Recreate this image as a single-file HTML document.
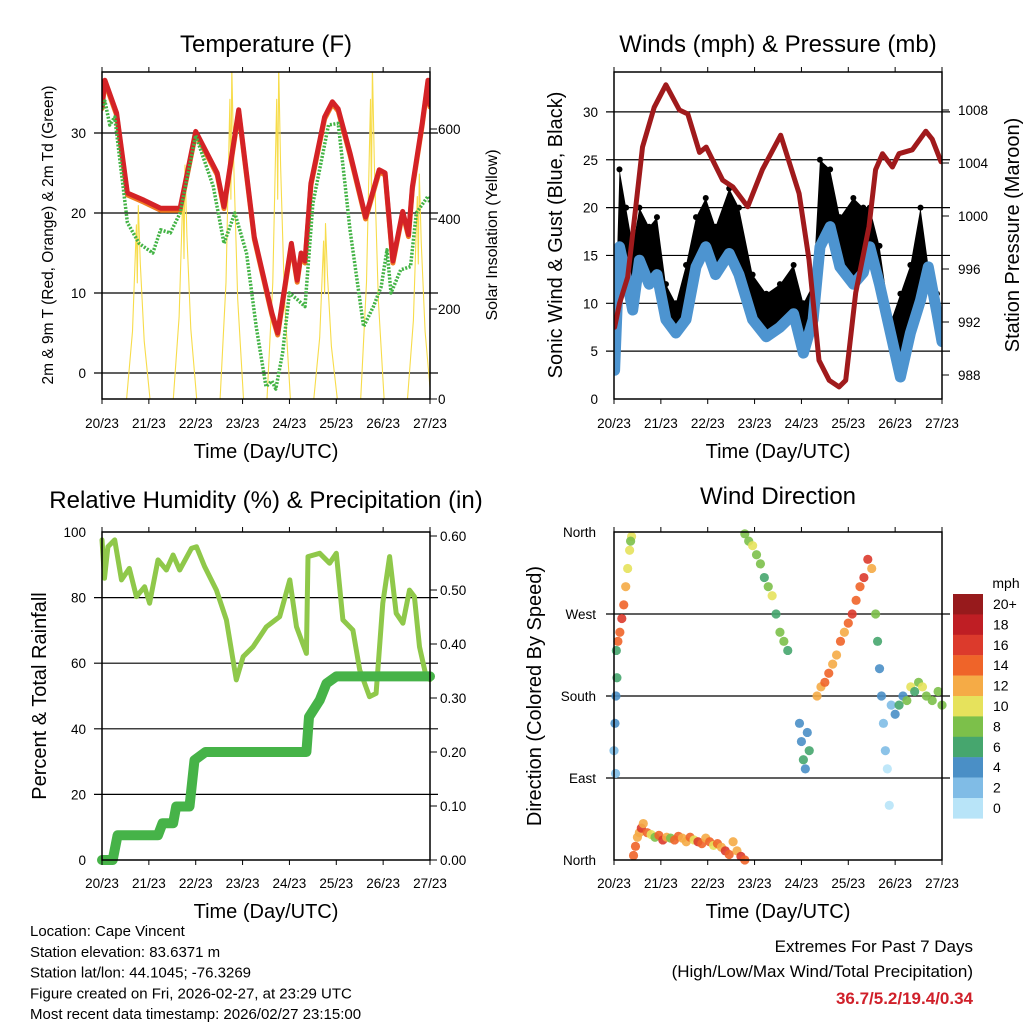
<!DOCTYPE html>
<html><head><meta charset="utf-8"><style>
html,body{margin:0;padding:0;background:#fff;}
svg{display:block;font-family:"Liberation Sans",sans-serif;}
</style></head><body>
<svg id="s" width="1024" height="1024" viewBox="0 0 1024 1024"></svg>
<script>
// ---- data ----
const dayLabels=["20/23","21/23","22/23","23/23","24/23","25/23","26/23","27/23"];
const tempHours=[0,1.5,7.5,13,21.5,30,40,48,59,62.5,70,78,87,90,97,100,102,104,107,114,118,121,127,135,142,145,149,154,157,159,164,167,168];
const tempRed=[33.3,36.6,32.5,22.5,21.6,20.6,20.6,30.2,25,20.8,32.9,17,7.5,5,16.2,11.6,15,14,23.7,32,33.9,33,27.5,19.5,25.4,25,14,20.2,17.3,23.3,31.2,36.6,33.5];
const dewHours=[0,1.5,4,6.5,13,19,26,30,35,40,48,57,62.5,68,74,79,84,87,89,92.5,96,100,104,108,116,121,125,127,134,139,143,146,148,153,158,161,167,168];
const dewGreen=[33,34,31,32,18.8,16.2,15,17.9,17.5,20,29.7,23.3,16.2,20,15,5.8,-1.7,-1,-2,2.5,10,9.2,8.3,21.2,31,31.2,22.5,17.9,5.8,8.3,10.8,15.4,10,12.9,13.3,20,22.1,21.2];
const solarPeakHours=[18.6,42.5,66.5,90.5,114.5,138.5,162.5];
const solarPeaks=[430,520,740,740,390,740,500];
const windHours=[0.3,2.8,6.2,9.6,13,18,22,26.6,31.7,36.9,42,47,52,59,64,71,78,85,92,97,102,105.5,110.7,115.7,122.6,127.7,131,136,141.6,146.7,151.8,157,161,165.4,168];
const windSpeed=[3,15.9,12.8,9.3,14.5,12,13,8.3,6.9,8.3,13.8,15.9,13,15.2,13,8.3,6.5,7.5,8.9,4.8,8.3,15.9,18,13.8,12,13.2,15.9,12,6.9,2.3,6.9,10.3,13.8,9,6];
const windGust=[6,24,20,16,20,18,19,12,10,14,19,21,18,22,20,13,11,12,14,10,12,25,24,19,21,20,20,16,8,11,14,20,14,11,9];
const presHours=[0.3,2.8,7,11,14.6,20.6,26.6,33.5,37.8,43.8,47.2,55.7,60.8,68.5,76,85.4,94.8,99.9,105,110.2,115.3,118.7,123.8,130.6,134,137.5,142.6,146,152.8,159.7,163,167.5];
const pressure=[991.6,993.4,995.4,1000.5,1005.2,1008.2,1009.9,1008,1007.7,1004.8,1005.2,1002.7,1002.2,1000.7,1003.5,1006.1,1001.7,996.7,989.1,987.6,987.1,987.6,994.2,999.2,1003.5,1004.7,1003.7,1004.7,1005,1006.4,1005.8,1004.1];
const rhHours=[0,1.3,3,6.5,10,14,17.6,21.8,24.4,28.7,33,36.4,39.8,45.8,48.4,52.6,58.6,63.7,68.8,72.3,77.4,84.2,91,96.2,99.6,104.7,105.5,111.5,116.6,120,123.4,128.5,132,137,140.4,143.8,147.3,150.7,154.1,157.5,160,162.6,166,168];
const rhValues=[97.6,85.9,95.5,97.6,85.4,88.9,80.3,83.3,78.3,91.5,88.4,93,88.4,95,95.5,89.4,82.3,73.2,54.9,62,65,71.1,74.2,85.4,71.1,63,92.5,93.5,90.5,93.5,73.2,70.1,58,49.8,50.8,78.3,92.5,75.2,72.2,82.3,80.3,65,56,55];
const rainHours=[0,5.5,8,28.7,31,36.4,38,44.8,47.4,53,104.7,106,111.5,115,120,168];
const rainTotal=[0,0,0.046,0.046,0.068,0.068,0.099,0.099,0.185,0.2,0.2,0.265,0.296,0.327,0.34,0.34];
const dirHours=[0,0.5,1,1.5,0.8,1.2,2,3,4,5,6,7,8,9,8.5,10,11,12,13,14,15,17,19,21,23,25,27,29,31,33,35,37,39,41,43,45,47,49,51,53,55,57,59,61,63,65,67,67,69,71,73,75,77,79,81,83,85,87,89,95,96,97,98,99,100,104,106,108,110,112,114,116,118,120,122,124,126,128,130,132,134,135,136,137,138,139,140,141,142,144,146,148,150,152,154,156,158,160,163,166,168];
const dirDeg=[120,150,180,200,95,230,240,250,265,280,300,320,340,355,350,5,15,25,30,35,40,30,28,25,27,22,25,24,22,26,24,20,25,22,20,18,24,20,16,18,14,10,6,20,10,4,0,358,350,345,335,325,310,300,290,270,250,240,230,150,130,110,100,140,120,180,190,195,205,215,225,240,250,260,270,285,300,310,330,320,270,240,210,180,150,120,100,60,170,160,170,180,175,190,185,195,190,180,175,185,170];
const dirSpeed=[3,4,5,6,3,7,14,15,16,14,12,10,10,10,8,14,15,13,12,16,12,14,10,8,14,16,12,8,14,15,13,12,14,10,16,14,12,15,10,14,12,16,14,12,13,16,14,8,9,10,8,9,6,8,10,7,8,9,6,5,4,6,5,4,7,12,13,15,14,12,13,14,12,15,16,14,15,16,17,13,8,6,5,4,3,2,1,1,3,5,6,4,8,10,7,9,11,8,9,8,9];
const cbLabels=["20+","18","16","14","12","10","8","6","4","2","0"];
const cbColors=["#971a1c","#bf1e24","#dc3a2c","#ef6429","#f5ab46","#e6e25c","#7cc04a","#46a66e","#4a8fc6","#80bce6","#b8e4f8"];

const NS="http://www.w3.org/2000/svg";
const svg=document.getElementById('s');
function mk(tag,attrs,parent){const e=document.createElementNS(NS,tag);for(const k in attrs)e.setAttribute(k,attrs[k]);(parent||svg).appendChild(e);return e;}
function txt(str,x,y,size,anchor,parent,extra){const t=mk('text',Object.assign({x:x,y:y,'font-size':size,'text-anchor':anchor||'middle',fill:'#000'},extra||{}),parent);t.textContent=str;return t;}
function line(pts,parent,attrs){return mk('polyline',Object.assign({points:pts.map(p=>p[0].toFixed(1)+','+p[1].toFixed(1)).join(' '),fill:'none','stroke-linejoin':'round','stroke-linecap':'round'},attrs),parent);}

const panels={t:{x0:102,x1:430,y0:72,y1:399},w:{x0:614,x1:942,y0:72,y1:399},r:{x0:102,x1:430,y0:532,y1:860},d:{x0:614,x1:942,y0:532,y1:860}};
function xs(p,h){return p.x0+h*(p.x1-p.x0)/168;}

function timeAxis(p,g,titleY,labY){
  for(let i=0;i<8;i++){const x=xs(p,i*24);
    mk('line',{x1:x,x2:x,y1:p.y1,y2:p.y1+5,stroke:'#000','stroke-width':1},g);
    mk('line',{x1:x,x2:x,y1:p.y0,y2:p.y0-5,stroke:'#000','stroke-width':1},g);
    const t=txt(dayLabels[i],x,labY,13.5,'middle',g);
    
    }
  const tt=txt("Time (Day/UTC)",(p.x0+p.x1)/2,titleY,20,'middle',g);
  
  
}
function frame(p,g){mk('rect',{x:p.x0,y:p.y0,width:p.x1-p.x0,height:p.y1-p.y0,fill:'none',stroke:'#000','stroke-width':1.5},g);}
function grid(p,g,y){mk('line',{x1:p.x0-8,x2:p.x1+8,y1:y,y2:y,stroke:'#000','stroke-width':1.2},g);}

// ===== Temperature panel =====
(function(){const p=panels.t;const g=mk('g',{});
 
 
 const yT=v=>373-v*8, yS=v=>399-v*0.45;
 const clip=mk('clipPath',{id:'ct'},g);mk('rect',{x:p.x0,y:p.y0,width:p.x1-p.x0,height:p.y1-p.y0},clip);
 [0,10,20,30].forEach(v=>{grid(p,g,yT(v));const t=txt(String(v),86,yT(v)+5,13.5,'end',g);});
 [0,200,400,600].forEach(v=>{mk('line',{x1:p.x1,x2:p.x1+7,y1:yS(v),y2:yS(v),stroke:'#000'},g);const t=txt(String(v),438,yS(v)+5,13.5,'start',g);});
 const cg=mk('g',{'clip-path':'url(#ct)'},g);
 solarPeakHours.forEach((h,i)=>{const v=solarPeaks[i];
   const s=line([[xs(p,h-6),yS(0)],[xs(p,h-3),yS(v*0.35)],[xs(p,h-1),yS(v*0.9)],[xs(p,h-0.5),yS(v*0.6)],[xs(p,h),yS(v)],[xs(p,h+1),yS(v*0.7)],[xs(p,h+3),yS(v*0.3)],[xs(p,h+6),yS(0)]],cg,{stroke:'#f7dc4a','stroke-width':1.1});
   
   });
 const o=line(tempHours.map((h,i)=>[xs(p,h),yT(tempRed[i])+2]),cg,{stroke:'#f07a22','stroke-width':5});
 
 
 const r=line(tempHours.map((h,i)=>[xs(p,h),yT(tempRed[i])]),cg,{stroke:'#d42226','stroke-width':5});
 
 
 const d=line(dewHours.map((h,i)=>[xs(p,h),yT(dewGreen[i])]),cg,{stroke:'#43b345','stroke-width':3.5,'stroke-dasharray':'2 1.5','stroke-linecap':'butt'});
 
 
 frame(p,g);timeAxis(p,g,458,428);
 const t1=txt("Temperature (F)",266,52,24,'middle',g);
 const t2=txt("2m & 9m T (Red, Orange) & 2m Td (Green)",0,0,15.5,'middle',g,{transform:'translate(53,235) rotate(-90)'});
 const t3=txt("Solar Insolation (Yellow)",0,0,16,'middle',g,{transform:'translate(497,235) rotate(-90)'});
})();

// ===== Winds panel =====
(function(){const p=panels.w;const g=mk('g',{});
 
 
 const yW=v=>399-v*9.57, yP=v=>375-(v-988)*13.25;
 const clip=mk('clipPath',{id:'cw'},g);mk('rect',{x:p.x0,y:p.y0,width:p.x1-p.x0,height:p.y1-p.y0},clip);
 [0,5,10,15,20,25,30].forEach(v=>{if(v>0)grid(p,g,yW(v));const t=txt(String(v),598,yW(v)+5,13.5,'end',g);});
 [988,992,996,1000,1004,1008].forEach(v=>{mk('line',{x1:p.x1,x2:p.x1+7,y1:yP(v),y2:yP(v),stroke:'#000'},g);const t=txt(String(v),958,yP(v)+5,13.5,'start',g);});
 const cg=mk('g',{'clip-path':'url(#cw)'},g);
 const top=windHours.map((h,i)=>[xs(p,h),yW(windGust[i])]);
 const bot=windHours.map((h,i)=>[xs(p,h),yW(windSpeed[i])]).reverse();
 const area=mk('polygon',{points:top.concat(bot).map(q=>q[0].toFixed(1)+','+q[1].toFixed(1)).join(' '),fill:'#000'},cg);
 
 
 windHours.forEach((h,i)=>{const c=mk('circle',{cx:xs(p,h),cy:yW(windGust[i]),r:3,fill:'#000'},cg);
   
   });
 const b=line(windHours.map((h,i)=>[xs(p,h),yW(windSpeed[i])]),cg,{stroke:'#4d94d0','stroke-width':11});
 
 
 const m=line(presHours.map((h,i)=>[xs(p,h),yP(pressure[i])]),cg,{stroke:'#a01a1c','stroke-width':5});
 
 
 frame(p,g);timeAxis(p,g,458,428);
 const t1=txt("Winds (mph) & Pressure (mb)",778,52,24,'middle',g);
 const t2=txt("Sonic Wind & Gust (Blue, Black)",0,0,20,'middle',g,{transform:'translate(562,235) rotate(-90)'});
 const t3=txt("Station Pressure (Maroon)",0,0,20,'middle',g,{transform:'translate(1019,235) rotate(-90)'});
})();

// ===== RH panel =====
(function(){const p=panels.r;const g=mk('g',{});
 
 
 const yR=v=>860-v*3.28, yI=v=>860-v*540;
 const clip=mk('clipPath',{id:'cr'},g);mk('rect',{x:p.x0-8,y:p.y0-8,width:p.x1-p.x0+16,height:p.y1-p.y0+16},clip);
 [0,20,40,60,80,100].forEach(v=>{if(v>0&&v<100)grid(p,g,yR(v));const t=txt(String(v),86,yR(v)+5,13.5,'end',g);});
 ["0.00","0.10","0.20","0.30","0.40","0.50","0.60"].forEach(v=>{const yy=yI(parseFloat(v));mk('line',{x1:p.x1,x2:p.x1+7,y1:yy,y2:yy,stroke:'#000'},g);const t=txt(v,440,yy+5,13.5,'start',g);});
 const cg=mk('g',{'clip-path':'url(#cr)'},g);
 const rh=line(rhHours.map((h,i)=>[xs(p,h),yR(rhValues[i])]),cg,{stroke:'#8fc84a','stroke-width':5});
 
 
 const pr=line(rainHours.map((h,i)=>[xs(p,h),yI(rainTotal[i])]),cg,{stroke:'#46b348','stroke-width':10});
 
 
 frame(p,g);timeAxis(p,g,918,888);
 const t1=txt("Relative Humidity (%) & Precipitation (in)",266,508,24,'middle',g);
 const t2=txt("Percent & Total Rainfall",0,0,20,'middle',g,{transform:'translate(46,696) rotate(-90)'});
})();

// ===== Wind direction panel =====
(function(){const p=panels.d;const g=mk('g',{});
 
 
 const yD=v=>860-v*328/360;
 const names=["North","East","South","West","North"];
 [0,90,180,270,360].forEach((v,i)=>{if(v>0&&v<360)grid(p,g,yD(v));const t=txt(names[i],596,yD(v)+5,13.5,'end',g);});
 const col=s=>cbColors[10-Math.min(10,Math.floor(s/2))];
 dirHours.forEach((h,i)=>{const c=mk('circle',{cx:xs(p,h),cy:yD(dirDeg[i]),r:4.6,fill:col(dirSpeed[i]),'fill-opacity':0.9},g);
   
   });
 frame(p,g);timeAxis(p,g,918,888);
 const t1=txt("Wind Direction",778,504,24,'middle',g);
 const t2=txt("Direction (Colored By Speed)",0,0,20,'middle',g,{transform:'translate(541,696) rotate(-90)'});
 const cb=mk('g',{},g);
 
 
 const cbTitle=txt("mph",1006,588,14,'middle',cb);
 cbLabels.forEach((l,i)=>{const y=594+i*20.4;
   const r=mk('rect',{x:953,y:y,width:30,height:20.6,fill:cbColors[i]},cb);
   
   
   const t=txt(l,993,y+15,14,'start',cb);
   
   });
})();

// ===== footer =====
(function(){const g=mk('g',{});
 
 
 const lines=["Location: Cape Vincent","Station elevation: 83.6371 m","Station lat/lon: 44.1045; -76.3269","Figure created on Fri, 2026-02-27, at 23:29 UTC","Most recent data timestamp: 2026/02/27 23:15:00"];
 lines.forEach((l,i)=>{const t=txt(l,30,936+i*20.8,15,'start',g);});
 const a=txt("Extremes For Past 7 Days",973,952,17,'end',g);
 const b=txt("(High/Low/Max Wind/Total Precipitation)",973,977,17,'end',g);
 const c=txt("36.7/5.2/19.4/0.34",973,1004,17,'end',g,{fill:'#d0202a','font-weight':'bold'});
})();
</script>
</body></html>
